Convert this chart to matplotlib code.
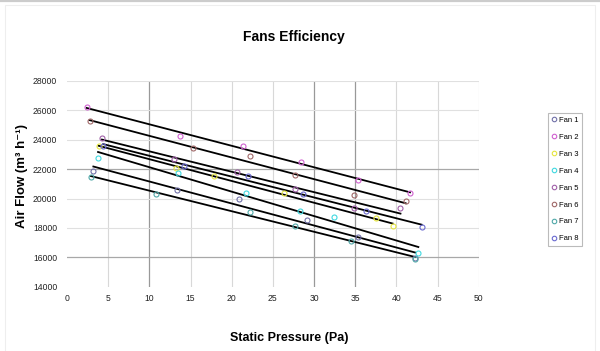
import matplotlib
matplotlib.use("Agg")
import matplotlib.pyplot as plt
from matplotlib.lines import Line2D
from matplotlib.patches import Rectangle
import numpy as np

plt.rcParams['font.family'] = ['Liberation Sans', 'DejaVu Sans']

fans = ["Fan 1", "Fan 2", "Fan 3", "Fan 4", "Fan 5", "Fan 6", "Fan 7", "Fan 8"]
colors = ["#7070a8", "#d060d0", "#e6e640", "#40d8e0", "#a060a8", "#a06868", "#50a8a8", "#6a6ad0"]

fan1_x = [3.2, 13.3, 20.9, 29.2, 35.3, 42.27]
fan1_y = [21900, 20600, 19950, 18570, 17390, 15950]
fan2_x = [2.39, 13.72, 21.4, 28.4, 35.3, 41.66]
fan2_y = [26200, 24290, 23560, 22510, 21240, 20400]
fan3_x = [3.85, 13.2, 17.9, 26.3, 37.57, 39.55]
fan3_y = [23600, 22080, 21560, 20390, 18690, 18140]
fan4_x = [3.77, 13.5, 21.74, 28.3, 32.4, 42.67]
fan4_y = [22790, 21760, 20400, 19120, 18760, 16270]
fan5_x = [4.25, 13.03, 20.65, 27.7, 34.8, 40.5]
fan5_y = [24150, 22670, 21830, 20670, 19350, 19370]
fan6_x = [2.75, 15.34, 22.2, 27.7, 34.8, 41.13]
fan6_y = [25250, 23450, 22870, 21580, 20240, 19850]
fan7_x = [2.9, 10.77, 22.2, 27.7, 34.5, 42.27]
fan7_y = [21460, 20330, 19100, 18100, 17090, 15900]
fan8_x = [4.4, 14.15, 22.0, 28.7, 36.35, 43.07]
fan8_y = [23600, 22200, 21520, 20330, 19170, 18070]

xs = [fan1_x, fan2_x, fan3_x, fan4_x, fan5_x, fan6_x, fan7_x, fan8_x]
ys = [fan1_y, fan2_y, fan3_y, fan4_y, fan5_y, fan6_y, fan7_y, fan8_y]

x_ticks = [0, 5, 10, 15, 20, 25, 30, 35, 40, 45, 50]
y_ticks = [14000, 16000, 18000, 20000, 22000, 24000, 26000, 28000]

W, H = 600, 351
fig = plt.figure(figsize=(6, 3.51), dpi=100)
ax = fig.add_axes([67 / W, 1 - 286.7 / H, (478.7 - 67) / W, (286.7 - 81) / H])

# faint outer frame
fig.patches.append(Rectangle((5 / W, -0.01), 590 / W, 1 - 5 / H + 0.01, transform=fig.transFigure,
                             fill=False, edgecolor="#eeeeee", lw=0.8))
fig.add_artist(Line2D([0, 1], [1 - 0.8 / H, 1 - 0.8 / H], transform=fig.transFigure,
                      color="#cccccc", lw=1.6))

dark_x = [10, 30, 35]
dark_y = [16000, 22000]
for xv in x_ticks[1:]:
    ax.axvline(xv, color="#999999" if xv in dark_x else "#d8d8d8", lw=0.9 if xv in dark_x else 0.8, zorder=0)
for yv in y_ticks[1:]:
    ax.axhline(yv, color="#a8a8a8" if yv in dark_y else "#e0e0e0", lw=0.9 if yv in dark_y else 0.8, zorder=0)

for x, y, c in zip(xs, ys, colors):
    x = np.array(x)
    y = np.array(y)
    k, b = np.polyfit(x, y, 1)
    xe = np.array([x.min(), x.max()])
    ax.plot(xe, k * xe + b, color="black", lw=1.3, zorder=2)
for x, y, c, name in zip(xs, ys, colors, fans):
    ax.plot(x, y, linestyle="none", marker="o", markersize=3.6, markerfacecolor="none",
            markeredgecolor=c, markeredgewidth=0.8, zorder=3, label=name)

ax.set_xlim(0, 50)
ax.set_ylim(14000, 28000)
ax.set_xticks(x_ticks)
ax.set_yticks(y_ticks)
ax.tick_params(axis="both", length=0, labelsize=6.2, colors="#222222")
ax.tick_params(axis="x", pad=5)
ax.tick_params(axis="y", pad=7)
for s in ax.spines.values():
    s.set_visible(False)

fig.text(294 / W, 1 - 37 / H, "Fans Efficiency", ha="center", va="center", fontsize=10, fontweight="bold")
fig.text(289 / W, 1 - 337.5 / H, "Static Pressure (Pa)", ha="center", va="center", fontsize=9, fontweight="bold")
fig.text(22 / W, 1 - 176 / H, "Air Flow (m³ h⁻¹)", ha="center", va="center",
         rotation=90, fontsize=9.5, fontweight="bold")

leg = fig.legend(loc="upper left", bbox_to_anchor=(548.3 / W, 1 - 113.3 / H), fontsize=5.5,
                 frameon=True, fancybox=False, edgecolor="#aaaaaa", handlelength=0.6,
                 handletextpad=0.3, labelspacing=1.25, borderpad=0.45, borderaxespad=0,
                 markerscale=0.9)
leg.get_frame().set_linewidth(0.8)

fig.savefig("out.png", dpi=100, facecolor="white")
